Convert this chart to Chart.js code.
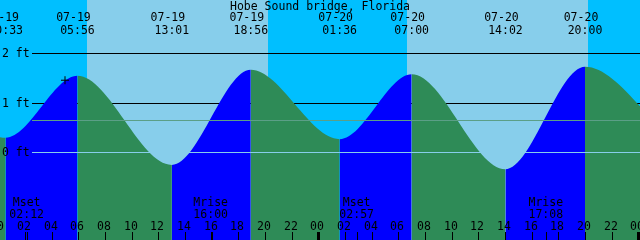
<!DOCTYPE html>
<html>
<head>
<meta charset="utf-8">
<title>Hobe Sound bridge, Florida</title>
<script src="https://cdn.jsdelivr.net/npm/chart.js@4.4.1/dist/chart.umd.min.js"></script>
<style>
  html, body { margin: 0; padding: 0; background: #00bfff; }
  #tide { display: block; }
</style>
</head>
<body>
<canvas id="tide" width="640" height="240"></canvas>
<script>
// tide predictions, heights in feet
const stationName = "Hobe Sound bridge, Florida";
const tideStamps = ["07-18 17:55", "07-19 00:33", "07-19 05:56", "07-19 13:01", "07-19 18:56",
                    "07-20 01:36", "07-20 07:00", "07-20 14:02", "07-20 20:00", "07-21 02:35"];
const tideHeights = [1.62, 0.30, 1.55, -0.25, 1.67, 0.27, 1.58, -0.34, 1.73, 0.25];

const moonStamps = ["07-19 02:12", "07-19 16:00", "07-20 02:57", "07-20 17:08"];
const moonEvents = ["Mset", "Mrise", "Mset", "Mrise"];

const sunriseStamps = ["07-19 06:39", "07-20 06:39"];
const sunsetStamps = ["07-19 20:13", "07-20 20:13"];

const depthValues = [2, 1, 0];
const depthLabels = ["2 ft", "1 ft", "0 ft"];
const meanLevel = 0.65;

const nowStamp = "07-19 05:00";
const nowHeight = 1.46;

const hourTicks = [0, 2, 4, 6, 8, 10, 12, 14, 16, 18, 20, 22,
                   24, 26, 28, 30, 32, 34, 36, 38, 40, 42, 44, 46, 48];
const hourLabels = ["00", "02", "04", "06", "08", "10", "12", "14", "16", "18", "20", "22",
                    "00", "02", "04", "06", "08", "10", "12", "14", "16", "18", "20", "22", "00"];

const NIGHT = "#00bfff", DAY = "#87ceeb", FLOOD = "#0000ff", EBB = "#2e8b57";
const FONT = "11.5px 'DejaVu Sans Mono', monospace";

// "07-19 05:56" -> hours since 07-19 00:00
function toHours(stamp) {
  const [md, hm] = stamp.split(" ");
  const day = +md.split("-")[1] - 19;
  const [h, m] = hm.split(":").map(Number);
  return day * 24 + h + m / 60;
}

const tidePoints = tideStamps.map((s, i) => ({ x: toHours(s), y: tideHeights[i] }));

const tideDecor = {
  id: "tideDecor",
  beforeDraw(chart) {
    const { ctx, chartArea: a, scales: { x, y } } = chart;
    ctx.save();
    ctx.fillStyle = NIGHT;
    ctx.fillRect(a.left, a.top, a.width, a.height);
    ctx.fillStyle = DAY;
    sunriseStamps.forEach((s, i) => {
      const x0 = Math.round(x.getPixelForValue(toHours(s)));
      const x1 = Math.round(x.getPixelForValue(toHours(sunsetStamps[i])));
      ctx.fillRect(x0, a.top, x1 - x0, a.height);
    });
    // the black depth lines sit under the water
    ctx.fillStyle = "#000";
    depthValues.filter(v => v > 0).forEach(v => {
      ctx.fillRect(32, Math.floor(y.getPixelForValue(v)), a.right - 32, 1);
    });
    ctx.restore();
  },
  afterDatasetsDraw(chart) {
    const { ctx, chartArea: a, scales: { x, y } } = chart;
    ctx.save();
    ctx.fillStyle = DAY;
    ctx.fillRect(32, Math.floor(y.getPixelForValue(0)), a.right - 32, 1);
    ctx.fillStyle = "#5b9f87";
    ctx.fillRect(32, Math.floor(y.getPixelForValue(meanLevel)), a.right - 32, 1);

    ctx.font = FONT;
    ctx.fillStyle = "#000";
    ctx.textBaseline = "alphabetic";

    ctx.textAlign = "left";
    depthValues.forEach((v, i) => {
      ctx.fillText(depthLabels[i], 2, Math.floor(y.getPixelForValue(v)) + 4);
    });

    ctx.textAlign = "center";
    ctx.fillText(stationName, 320, 10);

    tideStamps.forEach(s => {
      const px = x.getPixelForValue(toHours(s));
      const [md, hm] = s.split(" ");
      ctx.fillText(md, px - 4, 21);
      ctx.fillText(hm, px, 34);
    });

    hourTicks.forEach((h, i) => {
      const px = Math.round(x.getPixelForValue(h));
      if (h % 24 === 0) ctx.fillRect(px - 1, 232, 3, 8);
      else ctx.fillRect(px, 232, 1, 8);
      ctx.fillText(hourLabels[i], px - 1, 230);
    });

    moonStamps.forEach((s, i) => {
      const px = x.getPixelForValue(toHours(s));
      ctx.fillRect(Math.round(px) - 1, 232, 1, 8);
      ctx.fillText(moonEvents[i], px - 1, 206);
      ctx.fillText(s.split(" ")[1], px - 1, 218);
    });
    ctx.restore();
  }
};

new Chart(document.getElementById("tide"), {
  type: "line",
  data: {
    datasets: [
      {
        data: [{ x: toHours(nowStamp), y: nowHeight }],
        type: "scatter",
        order: 1,
        pointStyle: "cross",
        radius: 4,
        borderColor: "#000",
        backgroundColor: "#000",
        borderWidth: 1
      },
      {
        data: tidePoints,
        order: 2,
        cubicInterpolationMode: "monotone",
        fill: "start",
        borderColor: "rgba(0,0,0,0)",
        borderWidth: 0,
        pointRadius: 0,
        backgroundColor: EBB,
        segment: {
          backgroundColor: c => (c.p1.parsed.y > c.p0.parsed.y ? FLOOD : EBB)
        }
      }
    ]
  },
  options: {
    responsive: false,
    animation: false,
    devicePixelRatio: 1,
    events: [],
    layout: { padding: 0, autoPadding: false },
    plugins: { legend: { display: false }, tooltip: { enabled: false } },
    scales: {
      x: { type: "linear", min: 0.125, max: 48.125, display: false },
      y: { min: -87.5 / 49.5, max: 152.5 / 49.5, display: false }
    }
  },
  plugins: [tideDecor]
});
</script>
</body>
</html>
